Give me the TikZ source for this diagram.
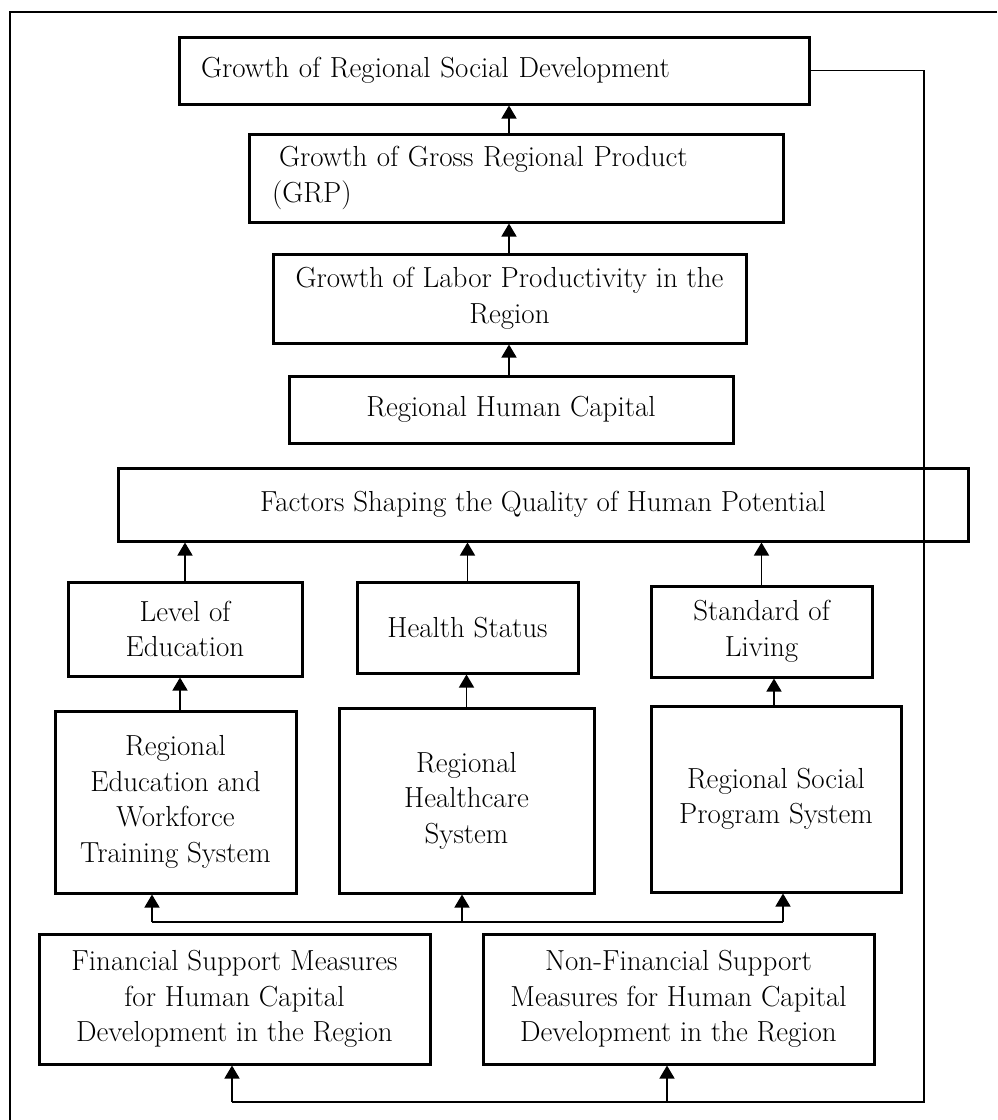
\documentclass[tikz,border=0pt]{standalone}
\usetikzlibrary{arrows.meta}
\tikzset{
    blk/.style={draw=black,line width=3pt,fill=white,align=center,inner sep=0pt,
        font=\fontsize{29}{35.5}\selectfont},
    arr/.style={line width=1.5pt,-{Triangle[width=15pt,length=13pt]}},
    link/.style={line width=1.5pt},
}
\newcommand{\blk}[5]{%
    \node[blk,minimum width=#3pt,minimum height=#4pt] (#1) at (#2) {#5};
}

\begin{document}
\begin{tikzpicture}[x=1pt,y=-1pt]
    \useasboundingbox (0,0) rectangle (997,1120);
    \draw[link] (997,12) -- (10,12) -- (10,1120);
    % top chain
    \node[blk,align=left,text width=586pt,inner xsep=22pt,minimum height=67pt] (gsd) at (494,70.5)
        {Growth of Regional Social Development};
    \node[blk,align=left,text width=488pt,inner xsep=23pt,minimum height=88pt] (grp) at (516,178)
        {\hspace*{7pt}Growth of Gross Regional Product\\(GRP)};
    \blk{lab}{509.5,298.5}{473}{89}{Growth of Labor Productivity in the\\Region}
    \blk{hc}{511,409.5}{444}{67}{Regional Human Capital}
    \blk{fac}{543,504.5}{850}{73}{Factors Shaping the Quality of Human Potential}
    % factors
    \blk{edu}{185,629}{234}{94}{Level of\\Education}
    \blk{hs}{467.5,627.5}{221}{91}{Health Status}
    \blk{sol}{761.5,631.5}{221}{91}{Standard of\\Living}
    % regional systems
    \blk{rew}{175.5,802}{241}{182}{Regional\\Education and\\Workforce\\Training System}
    \blk{rhs}{466.5,800.5}{255}{185}{Regional\\Healthcare\\System}
    \blk{rsp}{776,799}{250}{186}{Regional Social\\Program System}
    % support measures
    \blk{fin}{234.5,999}{391}{130}{Financial Support Measures\\for Human Capital\\Development in the Region}
    \blk{nfin}{678.5,999}{391}{130}{Non-Financial Support\\Measures for Human Capital\\Development in the Region}

    \draw[arr] (grp.north -| 509,0) -- (gsd.south -| 509,0);
    \draw[arr] (lab.north -| 509,0) -- (grp.south -| 509,0);
    \draw[arr] (hc.north -| 509,0) -- (lab.south -| 509,0);
    \foreach \n in {edu,hs,sol}
        \draw[arr] (\n.north) -- (\n.north |- fac.south);
    \draw[arr] (rew.north -| 180,0) -- (edu.south -| 180,0);
    \draw[arr] (rhs.north) -- (rhs.north |- hs.south);
    \draw[arr] (rsp.north -| 774,0) -- (sol.south -| 774,0);

    \coordinate (busL) at (152,922);
    \coordinate (busM) at (462,922);
    \coordinate (busR) at (783,922);
    \draw[link] (busL) -- (busR);
    \draw[arr] (busL) -- (busL |- rew.south);
    \draw[arr] (busM) -- (busM |- rhs.south);
    \draw[arr] (busR) -- (busR |- rsp.south);

    \coordinate (fbR) at (924,1102);
    \coordinate (fbM) at (667,1102);
    \coordinate (fbL) at (232,1102);
    \draw[link] (gsd.east) -| (fbR) -- (fbL);
    \draw[arr] (fbL) -- (fbL |- fin.south);
    \draw[arr] (fbM) -- (fbM |- nfin.south);
\end{tikzpicture}
\end{document}
